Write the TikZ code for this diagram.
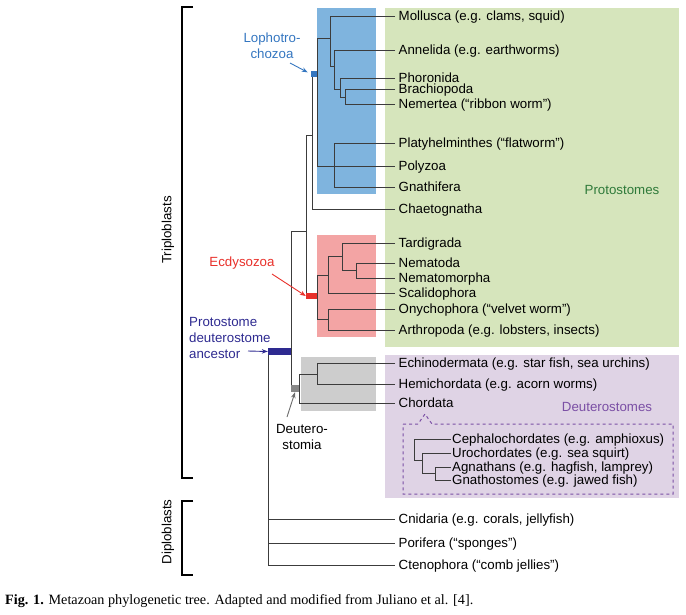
\documentclass[tikz,border=0pt]{standalone}
\usepackage{fontspec}
\setmainfont{Liberation Sans}
\newfontfamily\capfont{Liberation Serif}
\usetikzlibrary{arrows.meta}
\definecolor{lophobox}{RGB}{127,180,222}
\definecolor{protbox}{RGB}{214,229,188}
\definecolor{ecdybox}{RGB}{243,164,164}
\definecolor{deutbox}{RGB}{205,205,205}
\definecolor{deusbox}{RGB}{223,211,229}
\definecolor{lophoblue}{RGB}{52,118,192}
\definecolor{ecdyred}{RGB}{232,48,42}
\definecolor{ancnavy}{RGB}{46,42,144}
\definecolor{deutgrey}{RGB}{135,135,135}
\definecolor{protgreen}{RGB}{47,122,58}
\definecolor{deutpurple}{RGB}{123,79,165}
\definecolor{treeline}{RGB}{60,60,60}
\begin{document}
\begin{tikzpicture}[x=1pt, y=-1pt,
  branch/.style={draw=treeline, line width=1pt},
  bracket/.style={draw=black, line width=1.2pt},
  leaf/.style={anchor=west, inner xsep=3.5pt, inner ysep=0pt, text height=9.3pt, text depth=0pt, font=\fontsize{13.3}{16}\selectfont},
  subleaf/.style={leaf, inner xsep=1pt},
  lbl/.style={inner sep=0pt, font=\fontsize{13.3}{16}\selectfont},
  marker/.style={rectangle, inner sep=0pt, draw=none},
  arr/.style={-{Stealth[length=6pt,width=4.5pt]}, line width=0.9pt}]
\useasboundingbox (0,0) rectangle (686,614);
% coloured clade boxes
\path [fill=protbox] (385,8) rectangle (679,347);
\path [fill=deusbox] (385,355) rectangle (679,498);
\path [fill=lophobox] (317,8) rectangle (376,194);
\path [fill=ecdybox] (317,235) rectangle (376,337);
\path [fill=deutbox] (301,357) rectangle (376,411);
\draw [deutpurple, dashed, line width=1pt] (403,424) -- (418,424) -- (425,414) -- (432,424) -- (673,424) -- (673,494) -- (403,494) -- cycle;
% leaves
\node [leaf] (moll) at (395,16) {Mollusca (e.g. clams, squid)};
\node [leaf] (anne) at (395,50) {Annelida (e.g. earthworms)};
\node [leaf] (phor) at (395,78) {Phoronida};
\node [leaf] (brac) at (395,89) {Brachiopoda};
\node [leaf] (nemr) at (395,104) {Nemertea (“ribbon worm”)};
\node [leaf] (plat) at (395,143) {Platyhelminthes (“flatworm”)};
\node [leaf] (poly) at (395,166) {Polyzoa};
\node [leaf] (gnat) at (395,187) {Gnathifera};
\node [leaf] (chae) at (395,209) {Chaetognatha};
\node [leaf] (tard) at (395,243) {Tardigrada};
\node [leaf] (nema) at (395,263) {Nematoda};
\node [leaf] (nemm) at (395,278) {Nematomorpha};
\node [leaf] (scal) at (395,293) {Scalidophora};
\node [leaf] (onyc) at (395,309) {Onychophora (“velvet worm”)};
\node [leaf] (arth) at (395,330) {Arthropoda (e.g. lobsters, insects)};
\node [leaf] (echi) at (395,363) {Echinodermata (e.g. star fish, sea urchins)};
\node [leaf] (hemi) at (395,384) {Hemichordata (e.g. acorn worms)};
\node [leaf] (chor) at (395,403) {Chordata};
\node [subleaf] (ceph) at (451,439) {Cephalochordates (e.g. amphioxus)};
\node [subleaf] (uroc) at (451,453) {Urochordates (e.g. sea squirt)};
\node [subleaf] (agna) at (451,467) {Agnathans (e.g. hagfish, lamprey)};
\node [subleaf] (gnst) at (451,480) {Gnathostomes (e.g. jawed fish)};
\node [leaf] (cnid) at (395,519) {Cnidaria (e.g. corals, jellyfish)};
\node [leaf] (pori) at (395,543) {Porifera (“sponges”)};
\node [leaf] (cten) at (395,565) {Ctenophora (“comb jellies”)};
% Lophotrochozoa
\draw [branch] (317,38) -- (330,38);
\draw [branch] (moll.west) -| (330,66) -- (334,66);
\draw [branch] (anne.west) -| (334,89) -- (340,89);
\draw [branch] (phor.west) -| (340,97) -- (345,97);
\draw [branch] (brac.west) -- (345,89) |- (nemr.west);
\draw [branch] (plat.west) -| (334,187) -- (gnat.west);
\draw [branch] (317,38) |- (poly.west);
% Protostomia
\draw [branch] (312,77) |- (chae.west);
\draw [branch] (312,135) -| (306,293);
\draw [branch] (306,231) -| (291,385);
% Ecdysozoa
\draw [branch] (317,275) -- (328,275);
\draw [branch] (scal.west) -| (328,256) -- (342,256);
\draw [branch] (tard.west) -| (342,270) -- (356,270);
\draw [branch] (nema.west) -| (356,278) -- (nemm.west);
\draw [branch] (317,275) -- (317,319) -- (328,319);
\draw [branch] (onyc.west) -| (328,330) -- (arth.west);
% Deuterostomia
\draw [branch] (299,374) -- (317,374);
\draw [branch] (echi.west) -| (317,384) -- (hemi.west);
\draw [branch] (299,374) |- (chor.west);
\draw [branch] (ceph.west) -| (414,460) -- (422,460);
\draw [branch] (uroc.west) -| (422,473) -- (435,473);
\draw [branch] (agna.west) -| (435,480) -- (gnst.west);
% Diploblasts
\draw [branch] (268,353) |- (cten.west);
\draw [branch] (268,519) -- (cnid.west);
\draw [branch] (268,543) -- (pori.west);
% clade markers
\node [marker, fill=lophoblue, minimum width=6pt, minimum height=6pt] (lphm) at (314,74) {};
\node [marker, fill=ecdyred, minimum width=11pt, minimum height=6pt] (ecdm) at (311.5,296) {};
\node [marker, fill=ancnavy, minimum width=23pt, minimum height=7pt] (ancm) at (279.5,351.5) {};
\node [marker, fill=deutgrey, minimum width=8pt, minimum height=7pt] (deum) at (295,388.5) {};
% clade labels
\node [lbl, lophoblue, align=center] (lopho) at (272,46) {Lophotro-\\chozoa};
\node [lbl, ecdyred] (ecdy) at (242,263) {Ecdysozoa};
\node [lbl, ancnavy, align=left, anchor=west] (anc) at (189,338) {Protostome\\deuterostome\\ancestor};
\node [lbl, align=center] (deut) at (302,437) {Deutero-\\stomia};
\node [lbl, protgreen] (prot) at (622,190) {Protostomes};
\node [lbl, deutpurple] (deus) at (607,407) {Deuterostomes};
\coordinate (lphtail) at (290,63);
\coordinate (ecdtail) at (272,274);
\coordinate (anctail) at (248,351);
\coordinate (deutail) at (287,417);
\draw [arr, lophoblue] (lphtail) -- (lphm.west) [shorten >=3.5pt];
\draw [arr, ecdyred] (ecdtail) -- (ecdm.west);
\draw [arr, ancnavy] (anctail) -- (ancm.west);
\draw [arr, deutgrey!80!black] (deutail) -- (deum.south);
% germ layer brackets
\draw [bracket] (193,7) -- (182,7) -- (182,478) -- (193,478);
\draw [bracket] (193,501) -- (182,501) -- (182,575) -- (193,575);
\node [lbl, rotate=90] (trip) at (168,230) {Triploblasts};
\node [lbl, rotate=90] (dipl) at (168,532) {Diploblasts};
% caption
\node [anchor=west, inner sep=0pt, font=\capfont\fontsize{14.2}{17}\selectfont] (capt) at (5,601) {\textbf{Fig. 1.} Metazoan phylogenetic tree. Adapted and modified from Juliano et al. [4].};
\end{tikzpicture}
\end{document}
